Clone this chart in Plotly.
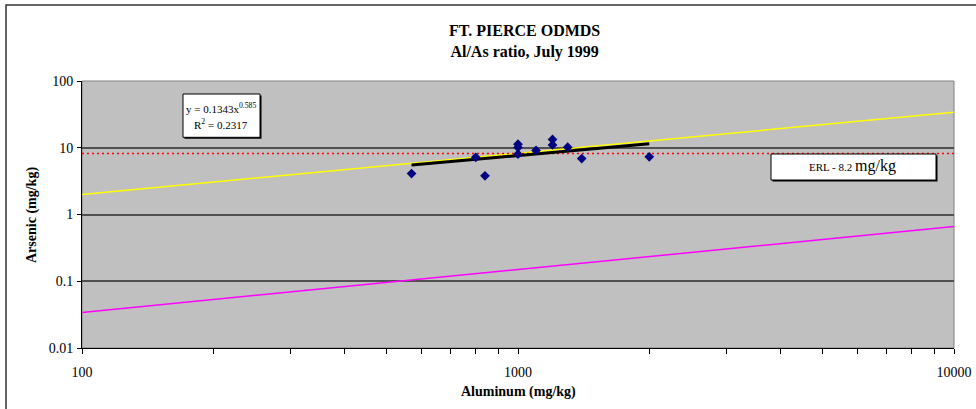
import numpy as np
import plotly.graph_objects as go

# ---------------- data ----------------
aluminum = [570, 800, 840, 1000, 1000, 1000, 1100, 1200, 1200, 1300, 1400, 2000]
arsenic = [4.1, 7.2, 3.8, 11.3, 10.1, 8.0, 9.1, 13.3, 11.0, 10.2, 6.9, 7.3]

fit_coef = 0.1343
fit_exp = 0.585
fit_r2 = 0.2317

limit_x = [100, 10000]
upper_limit = [2.0, 34.0]
lower_limit = [0.034, 0.66]

erl_value = 8.2

x_tickvals = [100, 1000, 10000]
x_ticktext = ["100", "1000", "10000"]
x_minorvals = [200, 300, 400, 500, 600, 700, 800, 900,
               2000, 3000, 4000, 5000, 6000, 7000, 8000, 9000]
y_tickvals = [0.01, 0.1, 1, 10, 100]
y_ticktext = ["0.01", "0.1", "1", "10", "100"]

# ---------------- layout constants ----------------
W, H = 976, 409
L, R, T, B = 82, 22, 81, 61
PW = W - L - R
PH = H - T - B
SERIF = "Liberation Serif, Times New Roman, serif"


def px(xp):
    return (xp - L) / PW


def py(yp):
    return (H - B - yp) / PH


fit_x = np.array([min(aluminum), max(aluminum)], dtype=float)
fit_y = fit_coef * fit_x ** fit_exp

fig = go.Figure()
fig.add_trace(go.Scatter(x=limit_x, y=upper_limit, mode="lines",
                         line=dict(color="#FFFF00", width=1.5), hoverinfo="skip"))
fig.add_trace(go.Scatter(x=limit_x, y=lower_limit, mode="lines",
                         line=dict(color="#FF00FF", width=1.5), hoverinfo="skip"))
fig.add_trace(go.Scatter(x=limit_x, y=[erl_value, erl_value], mode="lines",
                         line=dict(color="#FF0000", width=1.5, dash="2px,3px"),
                         hoverinfo="skip"))
fig.add_trace(go.Scatter(x=fit_x, y=fit_y, mode="lines",
                         line=dict(color="#000000", width=3), hoverinfo="skip"))
fig.add_trace(go.Scatter(x=aluminum, y=arsenic, mode="markers",
                         marker=dict(symbol="diamond", size=7.5, color="#000080",
                                     line=dict(width=0))))

shapes = [
    # plot border (gray)
    dict(type="rect", xref="paper", yref="paper", x0=0, x1=1, y0=0, y1=1,
         line=dict(color="#808080", width=1), layer="below"),
    # outer chart frame
    dict(type="rect", xref="paper", yref="paper",
         x0=px(6), x1=px(W + 10), y0=py(H + 10), y1=py(5),
         line=dict(color="#333333", width=1.5)),
    # equation box shadow + box
    dict(type="rect", xref="paper", yref="paper",
         x0=px(184.5), x1=px(261.5), y0=py(138.8), y1=py(95.5),
         line=dict(width=0), fillcolor="#000000"),
    dict(type="rect", xref="paper", yref="paper",
         x0=px(183), x1=px(260), y0=py(137.3), y1=py(94),
         line=dict(color="#000000", width=1), fillcolor="#FFFFFF"),
    # ERL box shadow + box
    dict(type="rect", xref="paper", yref="paper",
         x0=px(772.5), x1=px(937.5), y0=py(181.5), y1=py(155.5),
         line=dict(width=0), fillcolor="#000000"),
    dict(type="rect", xref="paper", yref="paper",
         x0=px(771), x1=px(936), y0=py(180), y1=py(154),
         line=dict(color="#000000", width=1), fillcolor="#FFFFFF"),
]

annotations = [
    dict(text="<b>FT. PIERCE ODMDS</b><br><b>Al/As ratio, July 1999</b>",
         xref="paper", yref="paper",
         x=px(524.5), y=py(41.5), xanchor="center", yanchor="middle",
         showarrow=False, font=dict(family=SERIF, size=16, color="#000000")),
    dict(text="<b>Arsenic (mg/kg)</b>", xref="paper", yref="paper",
         x=px(31.5), y=py(215.5), xanchor="center", yanchor="middle",
         textangle=-90, showarrow=False,
         font=dict(family=SERIF, size=14, color="#000000")),
    dict(text="<b>Aluminum (mg/kg)</b>", xref="paper", yref="paper",
         x=px(518), y=py(392), xanchor="center", yanchor="middle",
         showarrow=False, font=dict(family=SERIF, size=14, color="#000000")),
    dict(text=f"y = {fit_coef}x<sup>{fit_exp}</sup>", xref="paper", yref="paper",
         x=px(221), y=py(108), xanchor="center", yanchor="middle",
         showarrow=False, font=dict(family=SERIF, size=11, color="#000000")),
    dict(text=f"R<sup>2</sup> = {fit_r2}", xref="paper", yref="paper",
         x=px(221), y=py(124), xanchor="center", yanchor="middle",
         showarrow=False, font=dict(family=SERIF, size=11, color="#000000")),
    dict(text=f"ERL - {erl_value} <span style='font-size:16px'>mg/kg</span>",
         xref="paper", yref="paper",
         x=px(852.7), y=py(166), xanchor="center", yanchor="middle",
         showarrow=False, font=dict(family=SERIF, size=11, color="#000000")),
]

fig.update_layout(
    width=W, height=H, autosize=False,
    margin=dict(l=L, r=R, t=T, b=B, pad=0, autoexpand=False),
    paper_bgcolor="#FFFFFF", plot_bgcolor="#C0C0C0",
    showlegend=False,
    shapes=shapes, annotations=annotations,
    font=dict(family=SERIF, size=14, color="#000000"),
)
fig.update_xaxes(type="log", range=[2, 4], tickmode="array",
                 tickvals=x_tickvals, ticktext=x_ticktext,
                 ticks="outside", ticklen=5, tickcolor="#000000", tickwidth=1,
                 minor=dict(tickmode="array", tickvals=x_minorvals, ticks="outside",
                            ticklen=5, tickcolor="#000000", tickwidth=1,
                            showgrid=False),
                 showline=True, linecolor="#000000", linewidth=1,
                 showgrid=False, zeroline=False, ticklabelstandoff=6,
                 automargin=False,
                 tickfont=dict(family=SERIF, size=14, color="#000000"))
fig.update_yaxes(type="log", range=[-2, 2], tickmode="array",
                 tickvals=y_tickvals, ticktext=y_ticktext,
                 ticks="outside", ticklen=4, tickcolor="#000000", tickwidth=1,
                 showline=True, linecolor="#000000", linewidth=1,
                 showgrid=True, gridcolor="#505050", gridwidth=1.5,
                 zeroline=False, ticklabelstandoff=1, automargin=False,
                 tickfont=dict(family=SERIF, size=14, color="#000000"))

fig.write_html("out.html")
